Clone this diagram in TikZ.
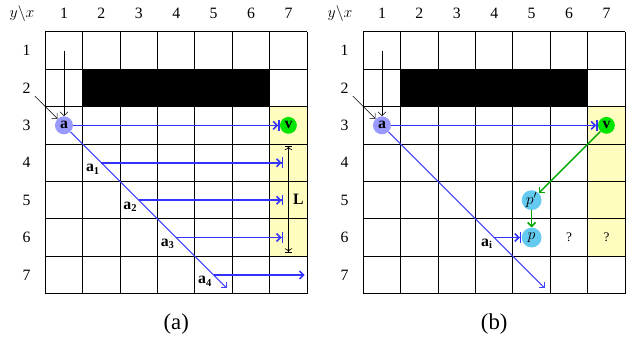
\documentclass[tikz,border=0pt]{standalone}
\usepackage{fontspec}
\setmainfont{Liberation Serif}
\usetikzlibrary{arrows.meta,positioning}
\definecolor{pcyan}{RGB}{100,202,240}

\begin{document}
\begin{tikzpicture}[>={Straight Barb[length=3pt,width=6pt]},node distance=0.75cm,font=\large]
  \tikzstyle{dot}=[circle,inner sep=0pt,minimum size=0.48cm]
  \tikzstyle{ray}=[draw=blue!80,line width=1.2pt]
  \tikzstyle{diag}=[draw=blue!75,line width=0.7pt]
  \tikzstyle{garrow}=[draw=green!65!black,line width=1.1pt]
  \tikzstyle{lab}=[anchor=north east,inner sep=1pt]
  \tikzstyle{stop}=[-{Straight Barb[length=3pt,width=6pt]Bar[width=8pt]}]
  \useasboundingbox (-1.21,0.85) rectangle (15.79,-8.38);
  \foreach \ox/\p/\cap in {0/a/(a),8.5/b/(b)}{
    \begin{scope}[xshift=\ox cm]
      \fill[yellow!25] (6,-2) rectangle (7,-6);
      \fill[black] (1,-1) rectangle (6,-2);
      \draw[line width=0.8pt] (0,0) grid (7,-7);
      \node (\p corner) at (-0.62,0.5) {$y\backslash x$};
      \foreach \i in {1,...,7}{
        \node (\p col\i) at (\i-0.5,0.5) {\i};
        \node (\p row\i) at (-0.5,0.5-\i) {\i};
      }
      \node[font=\LARGE] (\p cap) at (3.5,-7.8) {\cap};
    \end{scope}
  }
  \node[dot,fill=blue!40] (al) at (0.5,-2.5) {$\mathbf{a}$};
  \node[dot,fill=green!90!black,minimum size=0.45cm] (vl) at (6.5,-2.5) {$\mathbf{v}$};
  \coordinate (tl) at (0.5,-0.5);
  \coordinate (sl) at (-0.28,-1.72);
  \draw[->] (tl) -- (al);
  \draw[->] (sl) -- (al);
  \draw[ray,stop] (al) -- (vl);
  \coordinate (el) at (4.85,-6.85);
  \draw[diag,->] (al) -- (el);
  \foreach \k in {1,2,3}{
    \coordinate (l\k) at (0.5+\k,-2.5-\k);
    \coordinate (r\k) at (6.36,-2.5-\k);
    \draw[ray,stop] (l\k) -- (r\k);
    \node[lab] (al\k) at (l\k) {$\mathbf{a_\k}$};
  }
  \coordinate (l4) at (4.5,-6.5);
  \coordinate (r4) at (6.93,-6.5);
  \draw[ray,->] (l4) -- (r4);
  \node[lab] (al4) at (l4) {$\mathbf{a_4}$};
  \coordinate (Lt) at (6.5,-3.05);
  \coordinate (Lb) at (6.5,-5.9);
  \draw[{Bar[width=5pt]To[]}-{To[]Bar[width=5pt]},line width=0.5pt] (Lt) -- node[right] (L) {$\mathbf{L}$} (Lb);

  \node[dot,fill=blue!40] (ar) at (9,-2.5) {$\mathbf{a}$};
  \node[dot,fill=green!90!black,minimum size=0.45cm] (vr) at (15,-2.5) {$\mathbf{v}$};
  \node[dot,fill=pcyan,minimum size=0.53cm] (pp) at (13,-4.5) {$p'$};
  \node[dot,fill=pcyan,minimum size=0.53cm] (pr) at (13,-5.5) {$p$};
  \coordinate (tr) at (9,-0.5);
  \coordinate (sr) at (8.22,-1.72);
  \draw[->] (tr) -- (ar);
  \draw[->] (sr) -- (ar);
  \draw[ray,stop] (ar) -- (vr);
  \coordinate (er) at (13.35,-6.85);
  \draw[diag,->] (ar) -- (er);
  \draw[garrow,->] (vr) -- (pp);
  \draw[garrow,->] (pp) -- (pr);
  \coordinate (li) at (12,-5.5);
  \draw[ray,stop] (li) -- (pr);
  \node[lab] (ai) at (li) {$\mathbf{a_i}$};
  \node[font=\normalsize] (q1) at (14,-5.5) {?};
  \node[font=\normalsize] (q2) at (15,-5.5) {?};
\end{tikzpicture}
\end{document}
